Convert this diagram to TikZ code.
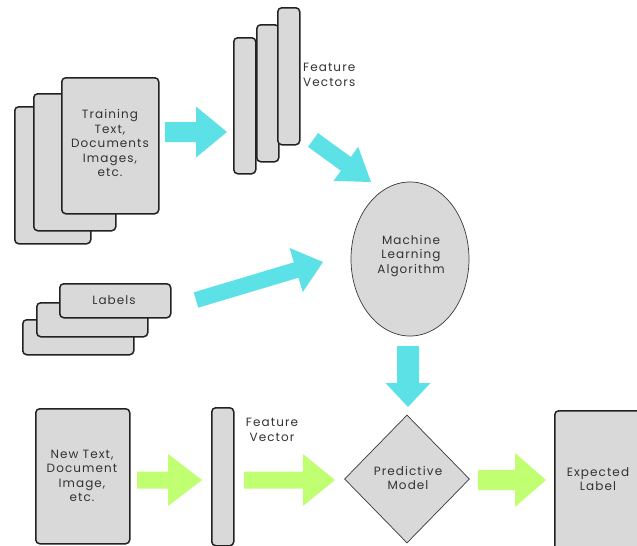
\documentclass[tikz,border=0pt]{standalone}
\usepackage{fontspec}
\newfontfamily\pf[LetterSpace=9]{Poppins}
\usetikzlibrary{shapes.geometric,calc}
\definecolor{cardgray}{HTML}{D9D9D9}
\definecolor{edge}{HTML}{222222}
\definecolor{cyanA}{HTML}{5CE1E6}
\definecolor{limeA}{HTML}{C1FF72}
\newcommand\blockarrow[6]{%
  \coordinate (hh) at ($(#2)!#5!(#1)$);
  \fill[#6] ($(#1)!#3!90:(#2)$) -- ($(hh)!#3!-90:(#1)$) -- ($(hh)!#4!-90:(#1)$) -- (#2)
    -- ($(hh)!#4!90:(#1)$) -- ($(hh)!#3!90:(#1)$) -- ($(#1)!#3!-90:(#2)$) -- cycle;}
\tikzset{
  card/.style={draw=edge, line width=1.5pt, fill=cardgray, rounded corners=4pt, anchor=north west, inner sep=0pt},
  txt/.style={font=\pf\fontsize{12}{14.5}\selectfont, text=black!80, align=center, inner sep=0pt},
}
\begin{document}
\begin{tikzpicture}[x=1pt,y=-1pt]
\clip (0,0) rectangle (637,546);
\fill[white] (0,0) rectangle (637,546);
% training stack
\node[card, minimum width=76, minimum height=137] (tr3) at (14,106) {};
\node[card, minimum width=82, minimum height=137] (tr2) at (33,93) {};
\node[card, minimum width=97, minimum height=136] (tr1) at (61,77) {};
\node[txt] (trt) at (110,143) {Training\\Text,\\Documents\\Images,\\etc.};
% feature vectors
\node[card, minimum width=22, minimum height=136] (fv1) at (233,37) {};
\node[card, minimum width=22, minimum height=137] (fv2) at (256,24) {};
\node[card, minimum width=22, minimum height=137] (fv3) at (277,7) {};
\node[txt, align=left, anchor=west] (fvt) at (303,75) {Feature\\Vectors};
% labels stack
\node[card, minimum width=111, minimum height=35] (lb3) at (22,319) {};
\node[card, minimum width=111, minimum height=34] (lb2) at (36,302) {};
\node[card, minimum width=111, minimum height=34] (lb1) at (59,283) {};
\node[txt] (lbt) at (114,300) {Labels};
% ML algorithm
\node[ellipse, draw=edge!90, line width=0.7pt, fill=cardgray, minimum width=118, minimum height=154, inner sep=0pt] (ml) at (410,259) {};
\node[txt] (mlt) at (411,256) {Machine\\Learning\\Algorithm};
% bottom row
\node[card, minimum width=94, minimum height=135] (nt) at (35,408) {};
\node[txt] (ntt) at (82,476) {New Text,\\Document\\Image,\\etc.};
\node[card, minimum width=22, minimum height=138] (fvb) at (211,407) {};
\node[txt] (fvbt) at (272,430) {Feature\\Vector};
\node[diamond, draw=edge!90, line width=0.7pt, fill=cardgray, minimum width=125, minimum height=128, inner sep=0pt] (pm) at (407,479) {};
\node[txt] (pmt) at (408,478) {Predictive\\Model};
\node[card, minimum width=120, minimum height=160] (el) at (554,410) {};
\node[txt] (elt) at (598,479) {Expected\\Label};
% connectors (block arrows)
\coordinate (a1s) at (165,132); \coordinate (a1e) at (227,132);
\coordinate (a2s) at (313,140); \coordinate (a2e) at (371,182);
\coordinate (a3s) at (196,300); \coordinate (a3e) at (323,262);
\coordinate (a4s) at (408,346); \coordinate (a4e) at (408,407);
\coordinate (g1s) at (137,480); \coordinate (g1e) at (202,480);
\coordinate (g2s) at (244,480); \coordinate (g2e) at (335,480);
\coordinate (g3s) at (478,480); \coordinate (g3e) at (546,480);
\blockarrow{a1s}{a1e}{10pt}{25.5pt}{31pt}{cyanA}
\blockarrow{a2s}{a2e}{8.5pt}{21pt}{31pt}{cyanA}
\blockarrow{a3s}{a3e}{8pt}{23pt}{28pt}{cyanA}
\blockarrow{a4s}{a4e}{11pt}{22.5pt}{24pt}{cyanA}
\blockarrow{g1s}{g1e}{8.5pt}{26pt}{34pt}{limeA}
\blockarrow{g2s}{g2e}{8.5pt}{26pt}{32pt}{limeA}
\blockarrow{g3s}{g3e}{10pt}{27pt}{31pt}{limeA}
\end{tikzpicture}
\end{document}
